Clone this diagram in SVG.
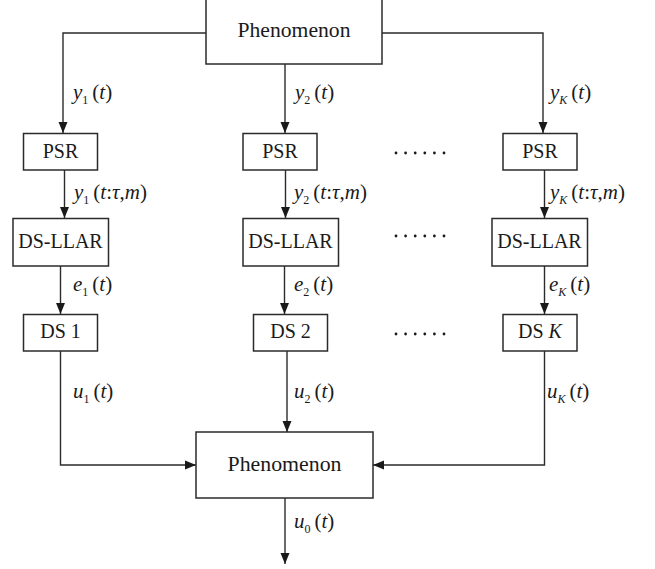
<svg xmlns="http://www.w3.org/2000/svg" width="655" height="569" viewBox="0 0 655 569" font-family="Liberation Serif, DejaVu Serif, serif">
<style>
.box{fill:#fff;stroke:#2b2b2b;stroke-width:1.5}
.ln{fill:none;stroke:#2b2b2b;stroke-width:1.4}
text{font-family:"Liberation Serif","DejaVu Serif",serif}
.t{font-size:20px;fill:#1a1a1a;text-anchor:middle}
.l{font-size:21px;fill:#1a1a1a}
.i{font-style:italic}
.s{font-size:12px}
.dot{fill:#1a1a1a}
</style>
<defs>
<marker id="ah" markerUnits="userSpaceOnUse" markerWidth="12" markerHeight="12" viewBox="0 0 12 12" refX="11" refY="6" orient="auto">
<path d="M0,1.5 L11,6 L0,10.5 Z" fill="#1a1a1a"/>
</marker>
</defs>
<g id="connectors">
<path class="ln" d="M206,33 H63 V133" marker-end="url(#ah)"/>
<path class="ln" d="M285,64 V133" marker-end="url(#ah)"/>
<path class="ln" d="M382,33 H543 V133" marker-end="url(#ah)"/>
<path class="ln" d="M64.5,170 V218" marker-end="url(#ah)"/>
<path class="ln" d="M285.5,170 V218" marker-end="url(#ah)"/>
<path class="ln" d="M544.5,170 V218" marker-end="url(#ah)"/>
<path class="ln" d="M60.5,266 V314" marker-end="url(#ah)"/>
<path class="ln" d="M284.5,266 V314" marker-end="url(#ah)"/>
<path class="ln" d="M544.5,266 V314" marker-end="url(#ah)"/>
<path class="ln" d="M60.5,351 V465 H196" marker-end="url(#ah)"/>
<path class="ln" d="M287,351 V432" marker-end="url(#ah)"/>
<path class="ln" d="M544.5,351 V465 H373" marker-end="url(#ah)"/>
<path class="ln" d="M285,498 V564" marker-end="url(#ah)"/>
</g>
<g id="labels">
<text class="l" x="73" y="99"><tspan class="i">y</tspan><tspan class="s" dy="5">1</tspan><tspan dy="-5" dx="4">(</tspan><tspan class="i">t</tspan>)</text>
<text class="l" x="295" y="99"><tspan class="i">y</tspan><tspan class="s" dy="5">2</tspan><tspan dy="-5" dx="4">(</tspan><tspan class="i">t</tspan>)</text>
<text class="l" x="550" y="99"><tspan class="i">y</tspan><tspan class="s i" dy="5">K</tspan><tspan dy="-5" dx="4">(</tspan><tspan class="i">t</tspan>)</text>
<text class="l" x="74" y="199"><tspan class="i">y</tspan><tspan class="s" dy="5">1</tspan><tspan dy="-5" dx="4">(</tspan><tspan class="i">t</tspan>:<tspan class="i">τ</tspan>,<tspan class="i">m</tspan>)</text>
<text class="l" x="294" y="199"><tspan class="i">y</tspan><tspan class="s" dy="5">2</tspan><tspan dy="-5" dx="4">(</tspan><tspan class="i">t</tspan>:<tspan class="i">τ</tspan>,<tspan class="i">m</tspan>)</text>
<text class="l" x="550" y="199"><tspan class="i">y</tspan><tspan class="s i" dy="5">K</tspan><tspan dy="-5" dx="4">(</tspan><tspan class="i">t</tspan>:<tspan class="i">τ</tspan>,<tspan class="i">m</tspan>)</text>
<text class="l" x="73" y="291"><tspan class="i">e</tspan><tspan class="s" dy="5">1</tspan><tspan dy="-5" dx="4">(</tspan><tspan class="i">t</tspan>)</text>
<text class="l" x="294" y="291"><tspan class="i">e</tspan><tspan class="s" dy="5">2</tspan><tspan dy="-5" dx="4">(</tspan><tspan class="i">t</tspan>)</text>
<text class="l" x="549" y="291"><tspan class="i">e</tspan><tspan class="s i" dy="5">K</tspan><tspan dy="-5" dx="4">(</tspan><tspan class="i">t</tspan>)</text>
<text class="l" x="73" y="398"><tspan class="i">u</tspan><tspan class="s" dy="5">1</tspan><tspan dy="-5" dx="4">(</tspan><tspan class="i">t</tspan>)</text>
<text class="l" x="294" y="398"><tspan class="i">u</tspan><tspan class="s" dy="5">2</tspan><tspan dy="-5" dx="4">(</tspan><tspan class="i">t</tspan>)</text>
<text class="l" x="547" y="398"><tspan class="i">u</tspan><tspan class="s i" dy="5">K</tspan><tspan dy="-5" dx="4">(</tspan><tspan class="i">t</tspan>)</text>
<text class="l" x="294" y="528"><tspan class="i">u</tspan><tspan class="s" dy="5">0</tspan><tspan dy="-5" dx="4">(</tspan><tspan class="i">t</tspan>)</text>
</g>
<g id="dots" class="dot">
<circle cx="396" cy="153" r="1.4"/><circle cx="405.6" cy="153" r="1.4"/><circle cx="415.2" cy="153" r="1.4"/><circle cx="424.8" cy="153" r="1.4"/><circle cx="434.4" cy="153" r="1.4"/><circle cx="444" cy="153" r="1.4"/>
<circle cx="396" cy="236" r="1.4"/><circle cx="405.6" cy="236" r="1.4"/><circle cx="415.2" cy="236" r="1.4"/><circle cx="424.8" cy="236" r="1.4"/><circle cx="434.4" cy="236" r="1.4"/><circle cx="444" cy="236" r="1.4"/>
<circle cx="396" cy="334" r="1.4"/><circle cx="405.6" cy="334" r="1.4"/><circle cx="415.2" cy="334" r="1.4"/><circle cx="424.8" cy="334" r="1.4"/><circle cx="434.4" cy="334" r="1.4"/><circle cx="444" cy="334" r="1.4"/>
</g>
<g id="phenomenon-top"><rect class="box" x="206" y="-2" width="176" height="66"/><text class="t" x="294" y="37" textLength="113" lengthAdjust="spacingAndGlyphs">Phenomenon</text></g>
<g id="psr-1"><rect class="box" x="23.5" y="133.5" width="74" height="36.5"/><text class="t" x="60.5" y="158">PSR</text></g>
<g id="psr-2"><rect class="box" x="243" y="133.5" width="74" height="36.5"/><text class="t" x="280" y="158">PSR</text></g>
<g id="psr-k"><rect class="box" x="503" y="133.5" width="74" height="36.5"/><text class="t" x="540" y="158">PSR</text></g>
<g id="dsllar-1"><rect class="box" x="13" y="218.5" width="95.5" height="47.5"/><text class="t" x="60.5" y="248">DS-LLAR</text></g>
<g id="dsllar-2"><rect class="box" x="243" y="218.5" width="95.5" height="47.5"/><text class="t" x="290.5" y="248">DS-LLAR</text></g>
<g id="dsllar-k"><rect class="box" x="492" y="218.5" width="95.5" height="47.5"/><text class="t" x="539.5" y="248">DS-LLAR</text></g>
<g id="ds-1"><rect class="box" x="23.5" y="314.5" width="74" height="36.5"/><text class="t" x="60.5" y="338">DS 1</text></g>
<g id="ds-2"><rect class="box" x="253.5" y="314.5" width="74" height="36.5"/><text class="t" x="290.5" y="338">DS 2</text></g>
<g id="ds-k"><rect class="box" x="503" y="314.5" width="74" height="36.5"/><text class="t" x="540" y="338">DS <tspan class="i">K</tspan></text></g>
<g id="phenomenon-bottom"><rect class="box" x="196" y="432" width="177" height="66"/><text class="t" x="284.5" y="471" textLength="114" lengthAdjust="spacingAndGlyphs">Phenomenon</text></g>
</svg>
